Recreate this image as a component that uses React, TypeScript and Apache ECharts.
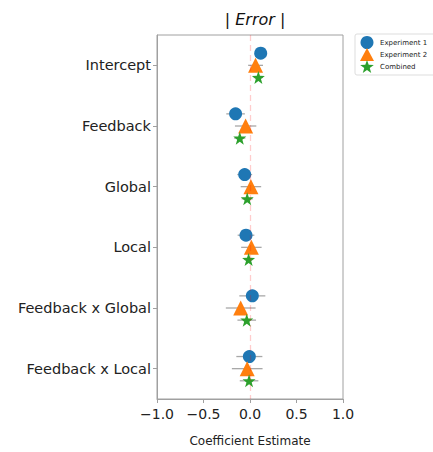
import React, { useEffect, useRef } from "react";
import * as echarts from "echarts";

const categories = ["Intercept", "Feedback", "Global", "Local", "Feedback x Global", "Feedback x Local"];
const exp1Est = [0.115, -0.155, -0.057, -0.043, 0.025, -0.007];
const exp1Err = [0.06, 0.1, 0.08, 0.09, 0.14, 0.14];
const exp2Est = [0.06, -0.047, 0.01, 0.015, -0.1, -0.03];
const exp2Err = [0.08, 0.115, 0.11, 0.11, 0.16, 0.165];
const combEst = [0.09, -0.11, -0.03, -0.015, -0.035, -0.01];
const combErr = [0.05, 0.06, 0.06, 0.05, 0.1, 0.1];
const xTicks = [-1.0, -0.5, 0.0, 0.5, 1.0];

const STAR = "path://M0,-10 L2.35,-3.24 L9.51,-3.09 L3.8,1.24 L5.88,8.09 L0,4 L-5.88,8.09 L-3.8,1.24 L-9.51,-3.09 L-2.35,-3.24 Z";
const FONT = "DejaVu Sans";

export default function App() {
  const ref = useRef<HTMLDivElement>(null);
  useEffect(() => {
    const chart = echarts.init(ref.current!, null, { renderer: "svg" });
    const offsets = [-0.2, 0, 0.2];
    const groups = [
      { name: "Experiment 1", est: exp1Est, err: exp1Err, color: "#1f77b4", symbol: "circle", size: 13 },
      { name: "Experiment 2", est: exp2Est, err: exp2Err, color: "#ff7f0e", symbol: "triangle", size: 15 },
      { name: "Combined", est: combEst, err: combErr, color: "#2ca02c", symbol: STAR, size: 13 },
    ];
    const barData: number[][] = [];
    groups.forEach((g, gi) => {
      g.est.forEach((v, i) => {
        barData.push([v - g.err[i], v + g.err[i], i + offsets[gi]]);
      });
    });
    const series: any[] = [
      {
        type: "custom",
        xAxisIndex: 0,
        yAxisIndex: 1,
        z: 1,
        silent: true,
        data: barData,
        renderItem: (params: any, api: any) => {
          const p1 = api.coord([api.value(0), api.value(2)]);
          const p2 = api.coord([api.value(1), api.value(2)]);
          return {
            type: "line",
            shape: { x1: p1[0], y1: p1[1], x2: p2[0], y2: p2[1] },
            style: { stroke: "#a8a8a8", lineWidth: 1.3 },
          };
        },
        markLine: {
          silent: true,
          symbol: "none",
          label: { show: false },
          lineStyle: { color: "rgba(255,0,0,0.2)", type: [6, 4], width: 1.3 },
          data: [{ xAxis: 0 }],
        },
      },
    ];
    groups.forEach((g, gi) => {
      series.push({
        type: "scatter",
        name: g.name,
        xAxisIndex: 0,
        yAxisIndex: 1,
        z: 3,
        symbol: g.symbol,
        symbolSize: g.size,
        itemStyle: { color: g.color, opacity: 1 },
        data: g.est.map((v, i) => [v, i + offsets[gi]]),
      });
    });
    chart.setOption({
      animation: false,
      textStyle: { fontFamily: FONT },
      title: {
        text: "| {i|Error} |",
        left: 250,
        textAlign: "center",
        top: 6,
        textStyle: {
          fontFamily: FONT,
          fontSize: 16,
          fontWeight: "normal",
          color: "#111",
          rich: { i: { fontFamily: FONT, fontSize: 16, fontStyle: "italic", color: "#111" } },
        },
      },
      legend: {
        left: 355,
        top: 34,
        orient: "vertical",
        itemWidth: 14,
        itemHeight: 13,
        itemGap: -1,
        padding: [2, 40, 2, 5],
        borderColor: "#ddd",
        borderWidth: 1,
        borderRadius: 2,
        textStyle: { fontFamily: FONT, fontSize: 7, color: "#222", padding: [0, 0, 0, 1] },
        data: groups.map((g) => ({ name: g.name, icon: g.symbol })),
      },
      grid: {
        left: 157,
        top: 35,
        width: 186,
        height: 370,
        show: true,
        borderColor: "#a0a0a0",
        borderWidth: 1,
        backgroundColor: "transparent",
      },
      xAxis: {
        type: "value",
        min: -1,
        max: 1,
        interval: 0.5,
        name: "Coefficient Estimate",
        nameLocation: "middle",
        nameGap: 36,
        nameTextStyle: { fontFamily: FONT, fontSize: 12, color: "#222" },
        splitLine: { show: false },
        axisLine: { show: true, onZero: false, lineStyle: { color: "#a0a0a0" } },
        axisTick: { show: true, length: 4, lineStyle: { color: "#a0a0a0" } },
        axisLabel: {
          fontFamily: FONT,
          fontSize: 14,
          color: "#222",
          margin: 8,
          formatter: (v: number) => (v < 0 ? "\u2212" + Math.abs(v).toFixed(1) : v.toFixed(1)),
        },
      },
      yAxis: [
        {
          type: "category",
          data: categories,
          inverse: true,
          boundaryGap: true,
          axisLine: { show: true, onZero: false, lineStyle: { color: "#a0a0a0" } },
          axisTick: { show: true, alignWithLabel: true, length: 4, lineStyle: { color: "#a0a0a0" } },
          axisLabel: { fontFamily: FONT, fontSize: 14.5, color: "#222", margin: 6 },
          splitLine: { show: false },
        },
        {
          type: "value",
          min: -0.5,
          max: 5.5,
          inverse: true,
          show: false,
          splitLine: { show: false },
        },
      ],
      series,
    });
    return () => chart.dispose();
  }, []);
  return <div ref={ref} style={{ width: 433, height: 452, position: "absolute", left: 0, top: 0 }} />;
}
